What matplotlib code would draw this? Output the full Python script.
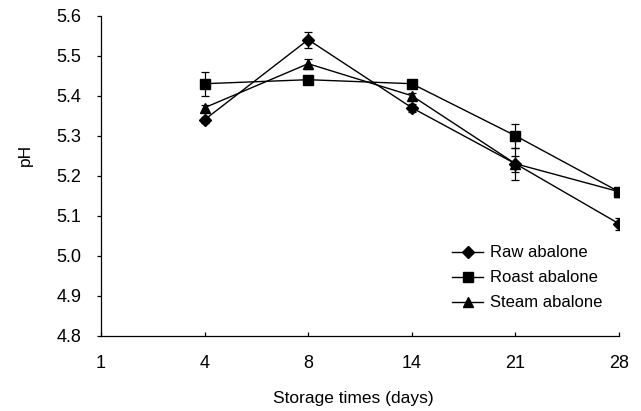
import matplotlib
matplotlib.use("Agg")
import matplotlib.pyplot as plt

plt.rcParams["font.family"] = ["Liberation Sans", "DejaVu Sans"]

days = ["1", "4", "8", "14", "21", "28"]
raw_ph = [5.34, 5.54, 5.37, 5.23, 5.08]
raw_err = [0.007, 0.02, 0.01, 0.02, 0.015]
roast_ph = [5.43, 5.44, 5.43, 5.30, 5.16]
roast_err = [0.03, 0.005, 0.005, 0.03, 0.008]
steam_ph = [5.37, 5.48, 5.40, 5.23, 5.16]
steam_err = [0.008, 0.012, 0.008, 0.04, 0.008]

fig = plt.figure(figsize=(6.41, 4.11), dpi=100)
ax = fig.add_axes([0.1576, 0.1832, 0.808, 0.7786])

x = list(range(1, len(days)))
series = [
    ("Raw abalone", raw_ph, raw_err, "D", 6),
    ("Roast abalone", roast_ph, roast_err, "s", 7),
    ("Steam abalone", steam_ph, steam_err, "^", 7.5),
]
handles = []
for name, vals, err, mk, ms in series:
    eb = ax.errorbar(x, vals, yerr=err, color="black", marker=mk, markersize=ms,
                     linewidth=1, elinewidth=0.9, capsize=3, capthick=0.9)
    eb.lines[0].set_label(name)
    handles.append(eb.lines[0])

ax.set_xlim(0, len(days) - 1)
ax.set_xticks(range(len(days)))
ax.set_xticklabels(days)
ax.set_ylim(4.8, 5.6)
ax.set_yticks([4.8 + 0.1 * i for i in range(9)])
ax.set_yticklabels(["%.1f" % (4.8 + 0.1 * i) for i in range(9)])

for s in ["top", "right"]:
    ax.spines[s].set_visible(False)
for s in ["left", "bottom"]:
    ax.spines[s].set_linewidth(0.9)
ax.tick_params(labelsize=13, width=0.9, length=3)
ax.tick_params(axis="x", direction="in", pad=14)
ax.tick_params(axis="y", direction="out", pad=11)

# excel-style label placement, not centred on the axes
ax.set_xlabel("Storage times (days)", fontsize=12.5)
ax.xaxis.set_label_coords(0.487, -0.172)
ax.set_ylabel("pH", fontsize=12.5)
ax.yaxis.set_label_coords(-0.132, 0.565)

ax.legend(handles=handles, loc="lower left", bbox_to_anchor=(0.678, 0.079),
          borderaxespad=0, borderpad=0, frameon=False,
          fontsize=12, handlelength=1.85, handletextpad=0.4,
          labelspacing=0.6)

fig.savefig("out.png", dpi=100)
